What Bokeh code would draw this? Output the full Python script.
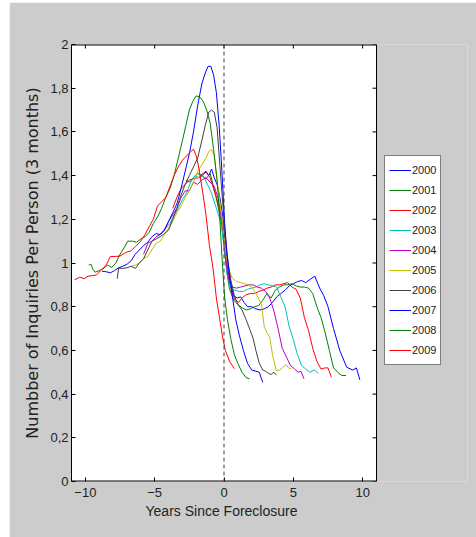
import math
from bokeh.plotting import figure
from bokeh.models import Span, Legend, LegendItem, FixedTicker, Spacer, Title
from bokeh.layouts import column, row
from bokeh.embed import file_html
from bokeh.resources import INLINE

years = ["2000", "2001", "2002", "2003", "2004", "2005", "2006", "2007", "2008", "2009"]
colors = ["#0000ff", "#008000", "#ff0000", "#00bfbf", "#bf00bf",
          "#bfbf00", "#404040", "#0000ff", "#008000", "#ff0000"]

x_ticks = [-10, -5, 0, 5, 10]
y_ticks = [0, 0.2, 0.4, 0.6, 0.8, 1, 1.2, 1.4, 1.6, 1.8, 2]
y_tick_labels = ["0", "0,2", "0,4", "0,6", "0,8", "1", "1,2", "1,4", "1,6", "1,8", "2"]
x_lim = (-11, 11)
y_lim = (0, 2)

x_2000 = [-1.7, -1.5, -1.3, -1.1, -0.9, -0.7, -0.5, -0.3, -0.1, 0.1, 0.3, 0.5, 0.7, 0.95, 1.2, 1.45, 1.7, 2.0, 2.3, 2.6, 2.9, 3.2, 3.5, 3.8, 4.1, 4.4, 4.7, 5.0, 5.3, 5.6, 5.9, 6.2, 6.55, 6.9, 7.2, 7.5, 7.9, 8.35, 8.85, 9.3, 9.55, 9.8]
y_2000 = [1.40, 1.41, 1.42, 1.40, 1.43, 1.39, 1.36, 1.30, 1.22, 1.08, 0.96, 0.90, 0.85, 0.84, 0.845, 0.82, 0.80, 0.80, 0.79, 0.785, 0.79, 0.80, 0.82, 0.845, 0.86, 0.875, 0.895, 0.905, 0.915, 0.92, 0.91, 0.925, 0.94, 0.885, 0.85, 0.80, 0.70, 0.60, 0.523, 0.51, 0.52, 0.465]

x_2001 = [-2.75, -2.5, -2.2, -1.9, -1.6, -1.3, -1.0, -0.8, -0.6, -0.4, -0.2, 0.0, 0.2, 0.4, 0.7, 1.0, 1.3, 1.6, 1.9, 2.2, 2.5, 2.8, 3.1, 3.4, 3.7, 4.0, 4.3, 4.6, 4.9, 5.2, 5.5, 5.8, 6.1, 6.4, 6.7, 7.0, 7.3, 7.6, 7.9, 8.2, 8.5, 8.8]
y_2001 = [1.38, 1.37, 1.39, 1.41, 1.40, 1.385, 1.41, 1.36, 1.31, 1.25, 1.19, 1.08, 0.96, 0.88, 0.83, 0.81, 0.795, 0.785, 0.79, 0.80, 0.805, 0.83, 0.86, 0.84, 0.875, 0.89, 0.90, 0.90, 0.905, 0.895, 0.89, 0.89, 0.885, 0.86, 0.80, 0.75, 0.68, 0.60, 0.52, 0.50, 0.485, 0.485]

x_2002 = [-3.7, -3.4, -3.1, -2.8, -2.5, -2.2, -1.9, -1.6, -1.3, -1.0, -0.75, -0.5, -0.3, -0.1, 0.1, 0.3, 0.55, 0.8, 1.05, 1.3, 1.6, 1.9, 2.2, 2.5, 2.8, 3.1, 3.4, 3.7, 4.0, 4.3, 4.6, 4.9, 5.2, 5.5, 5.8, 6.1, 6.4, 6.7, 7.0, 7.3, 7.5, 7.75]
y_2002 = [1.25, 1.30, 1.34, 1.36, 1.38, 1.385, 1.39, 1.40, 1.416, 1.39, 1.34, 1.29, 1.24, 1.19, 1.04, 0.94, 0.87, 0.83, 0.82, 0.84, 0.855, 0.86, 0.86, 0.87, 0.875, 0.885, 0.89, 0.90, 0.90, 0.905, 0.91, 0.89, 0.88, 0.84, 0.75, 0.69, 0.61, 0.55, 0.515, 0.52, 0.52, 0.477]

x_2003 = [-4.8, -4.5, -4.2, -3.9, -3.6, -3.3, -3.0, -2.7, -2.4, -2.1, -1.8, -1.5, -1.2, -0.9, -0.6, -0.35, -0.15, 0.05, 0.25, 0.5, 0.8, 1.1, 1.4, 1.7, 2.0, 2.3, 2.6, 2.9, 3.2, 3.5, 3.8, 4.1, 4.4, 4.7, 5.0, 5.3, 5.6, 5.9, 6.2, 6.5, 6.8]
y_2003 = [1.12, 1.14, 1.16, 1.18, 1.22, 1.25, 1.29, 1.32, 1.37, 1.40, 1.39, 1.40, 1.36, 1.32, 1.26, 1.21, 1.16, 1.05, 0.94, 0.885, 0.875, 0.87, 0.87, 0.88, 0.885, 0.89, 0.90, 0.905, 0.90, 0.895, 0.89, 0.845, 0.80, 0.71, 0.65, 0.58, 0.53, 0.515, 0.50, 0.51, 0.495]

x_2004 = [-5.8, -5.5, -5.2, -4.9, -4.6, -4.3, -4.0, -3.7, -3.4, -3.1, -2.8, -2.5, -2.2, -1.9, -1.6, -1.3, -1.0, -0.7, -0.45, -0.25, -0.05, 0.15, 0.35, 0.6, 0.9, 1.2, 1.5, 1.8, 2.1, 2.4, 2.7, 3.0, 3.3, 3.6, 3.9, 4.2, 4.5, 4.8, 5.1, 5.35, 5.55, 5.77]
y_2004 = [1.04, 1.09, 1.10, 1.12, 1.13, 1.15, 1.19, 1.22, 1.25, 1.30, 1.33, 1.33, 1.37, 1.36, 1.38, 1.39, 1.37, 1.35, 1.30, 1.24, 1.14, 1.0, 0.92, 0.89, 0.885, 0.89, 0.895, 0.90, 0.90, 0.89, 0.885, 0.87, 0.84, 0.78, 0.70, 0.61, 0.57, 0.53, 0.515, 0.50, 0.505, 0.47]

x_2005 = [-6.7, -6.4, -6.1, -5.8, -5.5, -5.2, -4.9, -4.6, -4.3, -4.0, -3.7, -3.4, -3.1, -2.8, -2.5, -2.2, -1.9, -1.6, -1.3, -1.1, -0.9, -0.7, -0.5, -0.3, -0.1, 0.1, 0.35, 0.6, 0.9, 1.2, 1.5, 1.8, 2.1, 2.4, 2.7, 2.9, 3.1, 3.3, 3.5, 3.77, 4.0, 4.2, 4.45, 4.65, 4.86]
y_2005 = [0.986, 0.99, 1.0, 1.02, 1.03, 1.06, 1.09, 1.10, 1.13, 1.16, 1.19, 1.23, 1.26, 1.30, 1.33, 1.37, 1.42, 1.45, 1.48, 1.51, 1.52, 1.49, 1.38, 1.28, 1.18, 1.06, 0.97, 0.93, 0.915, 0.91, 0.905, 0.90, 0.88, 0.85, 0.81, 0.71, 0.68, 0.66, 0.58, 0.508, 0.51, 0.52, 0.535, 0.52, 0.516]

x_2006 = [-7.7, -7.6, -7.3, -7.0, -6.7, -6.4, -6.1, -5.8, -5.5, -5.2, -4.9, -4.6, -4.3, -4.0, -3.7, -3.4, -3.1, -2.8, -2.5, -2.2, -1.9, -1.6, -1.35, -1.1, -0.9, -0.7, -0.5, -0.3, -0.1, 0.1, 0.3, 0.5, 0.75, 1.0, 1.3, 1.6, 1.9, 2.1, 2.3, 2.55, 2.8, 3.0, 3.2, 3.4, 3.6, 3.77]
y_2006 = [0.928, 0.977, 0.975, 0.978, 0.985, 0.975, 1.0, 1.02, 1.06, 1.10, 1.11, 1.12, 1.135, 1.15, 1.20, 1.25, 1.31, 1.36, 1.40, 1.44, 1.48, 1.56, 1.63, 1.69, 1.70, 1.69, 1.62, 1.45, 1.28, 1.12, 1.0, 0.92, 0.85, 0.81, 0.785, 0.74, 0.69, 0.655, 0.60, 0.54, 0.51, 0.505, 0.495, 0.49, 0.50, 0.487]

x_2007 = [-8.8, -8.5, -8.2, -7.9, -7.6, -7.3, -7.0, -6.7, -6.4, -6.1, -5.8, -5.5, -5.2, -4.9, -4.6, -4.3, -4.0, -3.7, -3.4, -3.1, -2.8, -2.5, -2.2, -1.9, -1.6, -1.35, -1.15, -0.95, -0.75, -0.55, -0.35, -0.15, 0.05, 0.2, 0.4, 0.6, 0.85, 1.1, 1.4, 1.7, 2.0, 2.3, 2.55, 2.7, 2.8]
y_2007 = [0.962, 0.96, 0.955, 0.965, 0.978, 0.985, 0.994, 1.01, 1.04, 1.06, 1.08, 1.095, 1.12, 1.135, 1.13, 1.15, 1.19, 1.23, 1.27, 1.34, 1.42, 1.50, 1.60, 1.72, 1.82, 1.87, 1.90, 1.90, 1.86, 1.78, 1.63, 1.42, 1.18, 1.05, 0.94, 0.85, 0.74, 0.67, 0.60, 0.54, 0.51, 0.505, 0.50, 0.47, 0.454]

x_2008 = [-9.76, -9.6, -9.45, -9.3, -9.0, -8.7, -8.4, -8.1, -7.8, -7.5, -7.2, -6.95, -6.6, -6.3, -6.0, -5.7, -5.4, -5.1, -4.8, -4.5, -4.2, -3.9, -3.6, -3.3, -3.0, -2.75, -2.5, -2.25, -2.0, -1.75, -1.5, -1.25, -1.0, -0.75, -0.5, -0.3, -0.1, 0.05, 0.25, 0.5, 0.75, 1.0, 1.3, 1.6, 1.84]
y_2008 = [0.99, 0.995, 0.97, 0.958, 0.965, 0.975, 0.99, 0.98, 1.0, 1.04, 1.07, 1.10, 1.10, 1.095, 1.11, 1.12, 1.14, 1.18, 1.21, 1.25, 1.30, 1.34, 1.40, 1.48, 1.56, 1.63, 1.70, 1.74, 1.765, 1.76, 1.74, 1.70, 1.64, 1.52, 1.38, 1.20, 0.98, 0.84, 0.74, 0.65, 0.58, 0.54, 0.50, 0.475, 0.47]

x_2009 = [-10.78, -10.4, -10.1, -9.8, -9.5, -9.2, -8.9, -8.5, -8.2, -7.8, -7.5, -7.1, -6.7, -6.4, -6.0, -5.7, -5.4, -5.1, -4.8, -4.5, -4.2, -3.9, -3.6, -3.3, -3.0, -2.7, -2.4, -2.2, -2.0, -1.8, -1.55, -1.3, -1.05, -0.8, -0.55, -0.3, -0.1, 0.1, 0.4, 0.75]
y_2009 = [0.923, 0.935, 0.928, 0.94, 0.942, 0.945, 0.965, 0.99, 1.03, 1.03, 1.032, 1.048, 1.056, 1.075, 1.10, 1.13, 1.166, 1.20, 1.26, 1.28, 1.30, 1.35, 1.40, 1.44, 1.47, 1.49, 1.51, 1.52, 1.49, 1.43, 1.33, 1.22, 1.08, 0.98, 0.84, 0.74, 0.66, 0.60, 0.55, 0.516]

series_x = [x_2000, x_2001, x_2002, x_2003, x_2004, x_2005, x_2006, x_2007, x_2008, x_2009]
series_y = [y_2000, y_2001, y_2002, y_2003, y_2004, y_2005, y_2006, y_2007, y_2008, y_2009]

TICK_FONT = "Liberation Sans"
GRAY = "#cccccc"

# The frame is widened to the right so that the legend (drawn inside it) is not clipped;
# the white axes box covers x_lim only.
BOX_W, FRAME_W, FRAME_H = 305, 396, 437
x_max = x_lim[0] + FRAME_W * (x_lim[1] - x_lim[0]) / BOX_W

p = figure(frame_width=FRAME_W, frame_height=FRAME_H, x_range=(x_lim[0], x_max), y_range=y_lim,
           output_backend="svg", toolbar_location=None,
           min_border_left=62, min_border_right=9, min_border_top=42, min_border_bottom=56)
p.background_fill_color = GRAY
p.border_fill_color = GRAY
p.outline_line_color = None
p.xgrid.visible = False
p.ygrid.visible = False

# white axes box
p.quad(left=[x_lim[0]], right=[x_lim[1]], bottom=[y_lim[0]], top=[y_lim[1]],
       fill_color="white", line_color=None)
# box edges (top/bottom sit on the frame edge, so half of a 2px line remains)
p.segment(x0=[x_lim[0], x_lim[0]], x1=[x_lim[1], x_lim[1]], y0=[y_lim[0], y_lim[1]],
          y1=[y_lim[0], y_lim[1]], line_color="black", line_width=2)
p.segment(x0=[x_lim[1]], x1=[x_lim[1]], y0=[y_lim[0]], y1=[y_lim[1]],
          line_color="black", line_width=1)
# mirrored inward ticks on top and right edges
p.ray(x=x_ticks, y=[y_lim[1]] * len(x_ticks), length=4, length_units="screen",
      angle=-math.pi / 2, line_color="black", line_width=1)
p.ray(x=[x_lim[1]] * len(y_ticks), y=y_ticks, length=4, length_units="screen",
      angle=math.pi, line_color="black", line_width=1)

p.xaxis.ticker = FixedTicker(ticks=x_ticks)
p.yaxis.ticker = FixedTicker(ticks=y_ticks)
p.yaxis.major_label_overrides = dict(zip(y_ticks, y_tick_labels))

for ax in (p.xaxis[0], p.yaxis[0]):
    ax.axis_line_color = "black"
    ax.major_tick_in = 4
    ax.major_tick_out = 0
    ax.minor_tick_line_color = None
    ax.major_tick_line_color = "black"
    ax.major_label_text_font = TICK_FONT
    ax.major_label_text_font_size = "13px"
    ax.major_label_text_color = "#222222"
    ax.axis_label_text_font_style = "normal"
    ax.axis_label_text_color = "#222222"
p.xaxis.axis_line_color = None

p.xaxis.major_label_standoff = 6
p.yaxis.major_label_standoff = 3
p.yaxis.axis_label = "Numbber of Inquiries Per Person (3 months)"
p.yaxis.axis_label_text_font = "DejaVu Sans"
p.yaxis.axis_label_text_font_size = "16px"
p.yaxis.axis_label_standoff = 5

# x-axis title, centred under the axes box (not under the widened frame)
p.add_layout(Title(text="Years Since Foreclosure", align="left", offset=74, standoff=2,
                   text_font=TICK_FONT, text_font_size="14px", text_font_style="normal",
                   text_color="#222222"), "below")

p.add_layout(Span(location=0, dimension="height", line_color="#404040",
                  line_dash="4 3", line_width=1))

items = []
for yr, c, xs, ys in zip(years, colors, series_x, series_y):
    r = p.line(xs, ys, line_color=c, line_width=1)
    items.append(LegendItem(label=yr, renderers=[r]))

legend = Legend(items=items, location=(313, 116), padding=4, spacing=0,
                glyph_width=22, glyph_height=20, label_height=20, label_standoff=1,
                label_text_font=TICK_FONT, label_text_font_size="11px",
                label_text_color="#222222",
                border_line_color="black", border_line_width=1,
                background_fill_color="white", background_fill_alpha=1)
p.add_layout(legend, "center")

page = column(Spacer(height=2), row(Spacer(width=9), p))
open("out.html", "w").write(file_html(page, INLINE))
